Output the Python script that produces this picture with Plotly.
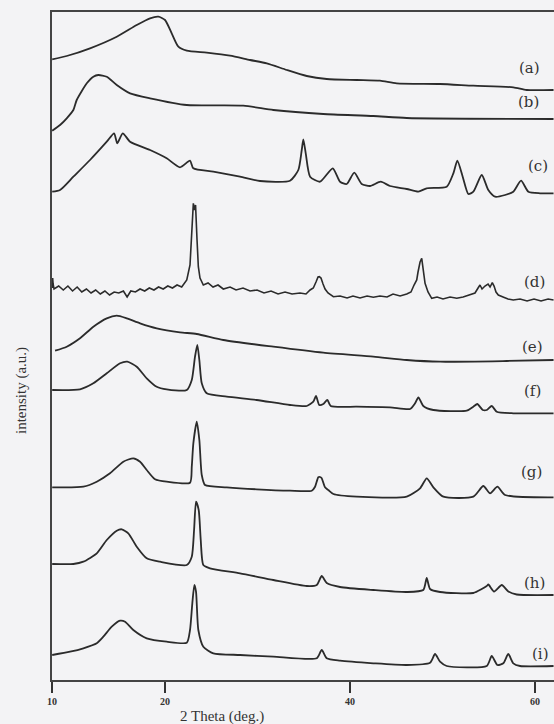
import plotly.graph_objects as go

# ---------------- data (2 Theta in deg, intensity in a.u., stacked) ----------------
a_x = [7.8, 9.37, 11.89, 14.78, 16.94, 18.38, 19.28, 20.0, 20.72, 21.44, 22.35, 24.51, 27.03, 29.19,
       31.0, 33.16, 35.32, 37.48, 40.72, 43.24, 45.05, 49.73, 53.33, 57.65, 59.1, 62.0]
a_y = [620.7, 624, 631.7, 643.3, 655, 661.7, 663.3, 660, 646.7, 633.3, 629.3, 627.3, 624.3, 620,
       616.7, 610, 604, 601, 600, 599.3, 596.7, 596, 594.3, 592.7, 590, 590]

b_x = [7.8, 8.65, 9.37, 10.09, 10.45, 11.54, 12.25, 12.79, 13.70, 14.78, 16.22, 18.38, 22.35, 28.46,
       31.71, 37.11, 42.52, 46.13, 62.0]
b_y = [549.3, 555, 561.7, 570, 580, 596.7, 603.3, 605, 603.3, 595, 586.7, 581.7, 575, 574.3,
       570, 566, 564, 562, 561]

c_x = [7.8, 8.65, 10.09, 11.89, 13.70, 14.49, 14.84, 15.43, 16.22, 18.38, 20.18, 21.62, 22.70, 23.06,
       25.22, 28.11, 30.27, 33.51, 34.41, 34.78, 34.95, 35.21, 35.68, 36.76, 38.13, 38.92, 39.64,
       40.46, 41.26, 42.16, 43.32, 44.32, 46.13, 47.38, 48.29, 50.45, 51.17, 51.60, 52.18, 52.79,
       53.33, 54.24, 54.95, 55.68, 56.76, 57.65, 58.49, 59.28, 60.54, 62.0]
c_y = [488.3, 490, 503.3, 520, 538.3, 546.7, 536.7, 546.7, 538.3, 530, 521.7, 512.7, 519.3, 511.7,
       508.3, 503.3, 499, 499.3, 510, 530, 540.7, 526.7, 503.3, 498.3, 511.7, 498.3, 496,
       507.3, 496, 494, 498.3, 494, 491, 488.3, 491.7, 493.3, 506.7, 519.3, 503.3, 486,
       488.3, 505, 490, 483.3, 485, 488.3, 499.3, 488.3, 486.7, 486.7]

d_x = [7.8, 7.85, 7.9, 8.0, 8.5, 9.0, 9.5, 10.0, 10.5, 11.0, 11.5, 12.0, 12.5, 13.0, 13.5, 14.0,
       14.5, 15.0, 15.5, 15.9, 16.3, 16.8, 17.3, 17.8, 18.3, 18.8, 19.3, 19.8, 20.3, 20.8, 21.3,
       21.8, 22.35, 22.70, 22.92, 23.06, 23.19, 23.30, 23.46, 23.60, 23.78, 24.14, 24.65, 25.19,
       25.73, 26.30, 27.03, 27.68, 28.43, 29.19, 29.95, 30.70, 31.46, 32.22, 32.97, 33.73, 34.59,
       35.24, 35.68, 36.03, 36.32, 36.54, 36.68, 36.86, 37.08, 37.30, 37.62, 38.20, 38.92, 39.68,
       40.32, 41.08, 41.84, 42.52, 43.24, 44.0, 44.65, 45.41, 46.13, 46.59, 46.92, 47.21, 47.35,
       47.57, 47.75, 47.89, 48.11, 48.43, 48.83, 49.41, 50.05, 50.81, 51.54, 52.22, 52.97, 53.51,
       53.84, 54.05, 54.27, 54.59, 54.92, 55.14, 55.38, 55.57, 55.78, 56.03, 56.54, 57.08, 57.65,
       58.38, 59.14, 59.89, 60.65, 61.41, 62.0]
d_y = [392, 402, 396, 391, 394, 390, 394, 389, 393, 388, 391, 387, 390, 386, 389, 385,
       388, 387, 389, 383, 389, 388, 391, 389, 392, 390, 393, 391, 394, 392, 395,
       393, 400, 415, 450, 476.7, 470, 475, 440, 413.3, 402, 395, 397, 393,
       395, 391, 393, 390, 392, 389, 390, 387, 389, 386, 388, 386, 387,
       386, 390, 392, 398, 403, 403.3, 402, 396, 391, 387, 383.3, 384, 382,
       384, 382, 384, 382.7, 384, 383, 386, 384, 386, 388, 395, 400, 408,
       418, 421.7, 410, 396.7, 388, 381.7, 383, 381, 383, 381.7, 383, 385, 387,
       392, 395, 391, 394, 396, 393, 397.3, 394, 388, 385, 383, 381, 380,
       381, 379, 381, 379, 381, 380]

e_x = [8.11, 9.37, 10.81, 12.25, 13.70, 14.78, 15.86, 17.30, 19.10, 21.62, 23.43, 26.30, 31.71,
       37.11, 42.52, 46.13, 49.73, 56.94, 62.0]
e_y = [329.3, 333.3, 341.7, 353.3, 361.7, 364.3, 361.7, 356.7, 351.7, 347.7, 346, 340, 333.3,
       327.3, 323.3, 320, 318.3, 319, 320]

f_x = [7.8, 10.81, 12.25, 13.70, 15.14, 15.92, 16.94, 18.02, 19.10, 20.18, 22.35, 22.89, 23.24,
       23.49, 23.71, 23.97, 24.51, 26.67, 29.91, 33.51, 35.32, 36.03, 36.32, 36.68, 37.11, 37.55,
       37.91, 40.72, 44.32, 46.49, 47.03, 47.39, 47.92, 49.01, 52.62, 53.33, 53.76, 54.35, 54.78,
       55.32, 55.86, 57.65, 62.0]
f_y = [290, 290.7, 296.7, 306.7, 316.7, 318.3, 313.3, 301.7, 293.3, 290.7, 290, 300, 323.3,
       335, 320, 296.7, 286.7, 283.3, 280, 275, 274, 278.3, 284, 275, 276, 280,
       274, 273.3, 272.7, 271, 276.7, 282.7, 274, 270, 269.3, 273.3, 276, 270, 270,
       274, 268.3, 266.7, 266.7]

g_x = [7.8, 11.17, 12.62, 14.05, 15.49, 16.57, 17.30, 18.02, 18.92, 20.18, 22.70, 22.89, 23.06,
       23.43, 23.71, 23.97, 24.32, 26.67, 29.91, 33.51, 35.86, 36.22, 36.57, 36.76, 36.94, 37.30,
       37.65, 38.20, 40.72, 46.13, 47.57, 48.29, 49.01, 50.09, 53.33, 54.41, 55.14, 55.93, 56.76,
       62.0]
g_y = [192.7, 193.3, 198.3, 206.7, 218.3, 221.7, 218.3, 210, 200.7, 198.3, 197.3, 213.3, 236.7,
       258.3, 240, 205, 195, 192.7, 190.7, 189.3, 189.3, 193.3, 202.7, 203, 201.7, 192.7,
       190, 186, 183.3, 183.3, 191.7, 201.7, 192.7, 183.3, 183.3, 194, 186.7, 193.3, 185,
       182.7]

h_x = [7.8, 10.09, 11.17, 12.62, 13.70, 14.78, 15.32, 16.03, 16.94, 18.02, 19.46, 22.35, 22.89,
       23.14, 23.35, 23.64, 23.86, 24.14, 24.86, 28.11, 31.71, 35.32, 36.40, 36.94, 37.48, 38.92,
       42.52, 46.13, 47.92, 48.29, 48.65, 49.73, 53.33, 54.78, 54.95, 55.57, 56.40, 57.11, 58.02,
       62.0]
h_y = [116, 116, 118.3, 126.7, 140, 149.3, 150.7, 146.7, 133.3, 121.7, 118.3, 115, 123.3,
       150, 178.3, 170, 140, 115, 111.7, 106.7, 100, 94, 95, 104, 97, 93,
       90, 88, 90, 102, 91, 88, 87, 94, 95.5, 88.5, 95, 88.5, 85.5,
       85]

i_x = [7.8, 9.73, 11.17, 12.62, 13.33, 14.24, 15.14, 15.68, 16.57, 18.02, 20.18, 22.35, 22.70,
       22.95, 23.17, 23.35, 23.60, 24.14, 25.22, 28.11, 31.71, 36.40, 36.94, 37.48, 38.92, 42.52,
       46.13, 48.65, 49.19, 49.73, 50.45, 54.78, 55.32, 55.93, 56.57, 57.11, 57.65, 58.38, 62.0]
i_y = [25, 28.3, 31.7, 36.7, 43.3, 53.3, 59.3, 58.3, 50, 41.7, 38.3, 37.3, 50,
       76.7, 95, 88.3, 50, 33.3, 26.7, 25, 23.3, 21.7, 30, 21.7, 19.3, 16.7,
       15, 17.3, 26, 18.3, 14, 14, 24, 15, 16.7, 26, 16.7, 14, 14]

series_names = ["(a)", "(b)", "(c)", "(d)", "(e)", "(f)", "(g)", "(h)", "(i)"]
tick_vals = [7.78, 20, 40, 60]
tick_text = ["10", "20", "40", "60"]

# ---------------- figure ----------------
LINE = "#2b2b2b"
BG = "#f3f3f5"
SERIF = "Liberation Serif, Times New Roman, serif"
WSERIF = "DejaVu Serif, serif"

xs = [a_x, b_x, c_x, d_x, e_x, f_x, g_x, h_x, i_x]
ys = [a_y, b_y, c_y, d_y, e_y, f_y, g_y, h_y, i_y]

fig = go.Figure()
for name, x, y in zip(series_names, xs, ys):
    noisy = name == "(d)"
    fig.add_trace(go.Scatter(
        x=x, y=y, mode="lines", name=name,
        line=dict(color=LINE, width=1.6 if noisy else 1.8,
                  shape="linear" if noisy else "spline", smoothing=0.6),
        hoverinfo="skip", showlegend=False))

# curve labels on the right
label_pos = [(59.35, 612), (59.3, 578), (60.3, 514), (59.9, 398), (59.7, 333),
             (59.7, 289), (59.6, 208), (59.9, 97), (60.6, 26)]
for name, (lx, ly) in zip(series_names, label_pos):
    fig.add_annotation(x=lx, y=ly, xref="x", yref="y", text=name, showarrow=False,
                       font=dict(family=WSERIF, size=15, color="#333333"),
                       xanchor="center", yanchor="middle")

fig.add_annotation(x=0.339, y=-0.054, xref="paper", yref="paper", text="2 Theta (deg.)",
                   showarrow=False, font=dict(family=SERIF, size=15, color="#333333"),
                   xanchor="center", yanchor="middle")
fig.add_annotation(x=-0.062, y=0.434, xref="paper", yref="paper", text="intensity (a.u.)",
                   showarrow=False, textangle=-90,
                   font=dict(family=SERIF, size=15, color="#333333"),
                   xanchor="center", yanchor="middle")

fig.update_layout(
    width=554, height=724,
    margin=dict(l=52, r=0, t=12, b=44),
    paper_bgcolor=BG, plot_bgcolor=BG,
    xaxis=dict(range=[7.78, 62.05], showgrid=False, zeroline=False,
               showline=True, linecolor="#444444", linewidth=1.5, mirror=True,
               ticks="outside", ticklen=11, tickwidth=2, tickcolor="#333333",
               tickvals=tick_vals, ticktext=tick_text,
               tickfont=dict(family=SERIF, size=10, color="#333333", weight="bold")),
    yaxis=dict(range=[0, 668], showgrid=False, zeroline=False,
               showline=True, linecolor="#444444", linewidth=1.5,
               showticklabels=False, ticks=""),
)

fig.write_html("out.html")
